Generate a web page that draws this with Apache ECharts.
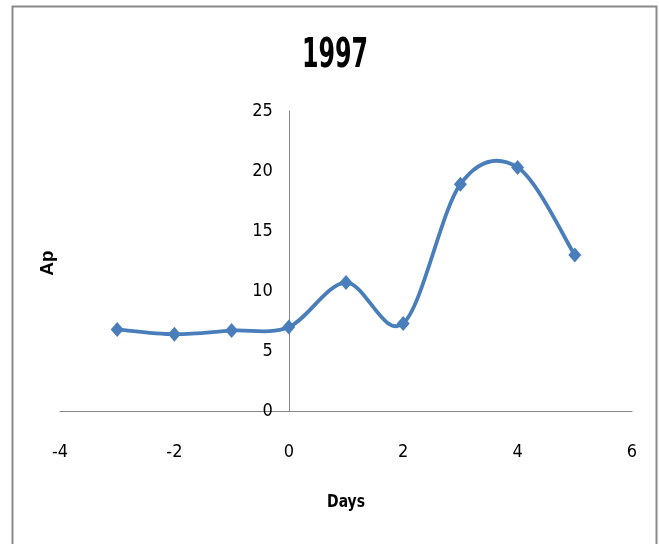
<!DOCTYPE html>
<html>
<head>
<meta charset="utf-8">
<script src="https://cdn.jsdelivr.net/npm/echarts@6/dist/echarts.min.js"></script>
<style>
  html, body { margin: 0; padding: 0; background: #fff; }
  #chart { width: 659px; height: 544px; }
</style>
</head>
<body>
<div id="chart"></div>
<script>
// Daily Ap index around the event day (day 0), 1997
const days = [-3, -2, -1, 0, 1, 2, 3, 4, 5];
const apValues = [6.8, 6.4, 6.7, 7.0, 10.7, 7.3, 18.9, 20.3, 13.0];

const titleText = '1997';
const xName = 'Days';
const yName = 'Ap';

const xMin = -4, xMax = 6, xStep = 2;
const yMin = 0, yMax = 25, yStep = 5;

const condensed = '"DejaVu Sans Condensed", "Liberation Sans", sans-serif';
const blue = '#4a7ebb';

const W = 659, H = 544;
const grid = { left: 60, right: 27, top: 111, bottom: 133 };
const plotW = W - grid.left - grid.right;
// the value axis crosses the horizontal axis at day 0
const yAxisShift = -((0 - xMin) / (xMax - xMin)) * plotW;

const chart = echarts.init(document.getElementById('chart'), null, { renderer: 'canvas' });

const points = days.map((d, i) => [d, apValues[i]]);

// Smoothed curve: cubic Bezier segments with Catmull-Rom control points
function renderSegment(params, api) {
  const i = params.dataIndex;
  const n = points.length;
  if (i >= n - 1) return null;
  const p0 = api.coord(points[Math.max(i - 1, 0)]);
  const p1 = api.coord(points[i]);
  const p2 = api.coord(points[i + 1]);
  const p3 = api.coord(points[Math.min(i + 2, n - 1)]);
  return {
    type: 'bezierCurve',
    shape: {
      x1: p1[0], y1: p1[1],
      x2: p2[0], y2: p2[1],
      cpx1: p1[0] + (p2[0] - p0[0]) / 6,
      cpy1: p1[1] + (p2[1] - p0[1]) / 6,
      cpx2: p2[0] - (p3[0] - p1[0]) / 6,
      cpy2: p2[1] - (p3[1] - p1[1]) / 6
    },
    style: { fill: null, stroke: blue, lineWidth: 3.8, lineCap: 'round' }
  };
}

chart.setOption({
  backgroundColor: '#ffffff',
  animation: false,
  grid: Object.assign({ containLabel: false }, grid),
  xAxis: {
    type: 'value',
    min: xMin,
    max: xMax,
    interval: xStep,
    axisLine: { show: true, onZero: false, lineStyle: { color: '#868686', width: 1 } },
    axisTick: { show: false },
    splitLine: { show: false },
    axisLabel: { margin: 32, fontFamily: condensed, fontSize: 18, color: '#000' }
  },
  yAxis: {
    type: 'value',
    min: yMin,
    max: yMax,
    interval: yStep,
    offset: yAxisShift,
    axisLine: { show: true, onZero: false, lineStyle: { color: '#868686', width: 1 } },
    axisTick: { show: false },
    splitLine: { show: false },
    axisLabel: { margin: 16, fontFamily: condensed, fontSize: 18, color: '#000', padding: [4, 0, 0, 0] }
  },
  graphic: [
    {
      type: 'rect',
      shape: { x: 12.5, y: 6.5, width: 644, height: 600 },
      style: { fill: 'none', stroke: '#8a8a8a', lineWidth: 2 },
      silent: true
    },
    {
      type: 'text',
      x: 335,
      y: 57,
      scaleX: 0.66,
      style: {
        text: titleText,
        fontFamily: condensed,
        fontWeight: 'bold',
        fontSize: 40,
        fill: '#000',
        align: 'center',
        verticalAlign: 'middle'
      }
    },
    {
      type: 'text',
      x: 346,
      y: 502,
      scaleX: 0.86,
      style: {
        text: xName,
        fontFamily: condensed,
        fontWeight: 'bold',
        fontSize: 18,
        fill: '#000',
        align: 'center',
        verticalAlign: 'middle'
      }
    },
    {
      type: 'text',
      x: 48,
      y: 263,
      rotation: Math.PI / 2,
      style: {
        text: yName,
        fontFamily: '"Liberation Sans", Arial, sans-serif',
        fontWeight: 'bold',
        fontSize: 19,
        fill: '#000',
        align: 'center',
        verticalAlign: 'middle'
      }
    }
  ],
  series: [
    {
      type: 'custom',
      data: points,
      encode: { x: 0, y: 1 },
      renderItem: renderSegment,
      z: 2
    },
    {
      type: 'scatter',
      data: points,
      symbol: 'diamond',
      symbolSize: [13, 15],
      itemStyle: { color: blue, opacity: 1 },
      z: 3
    }
  ]
});
</script>
</body>
</html>
